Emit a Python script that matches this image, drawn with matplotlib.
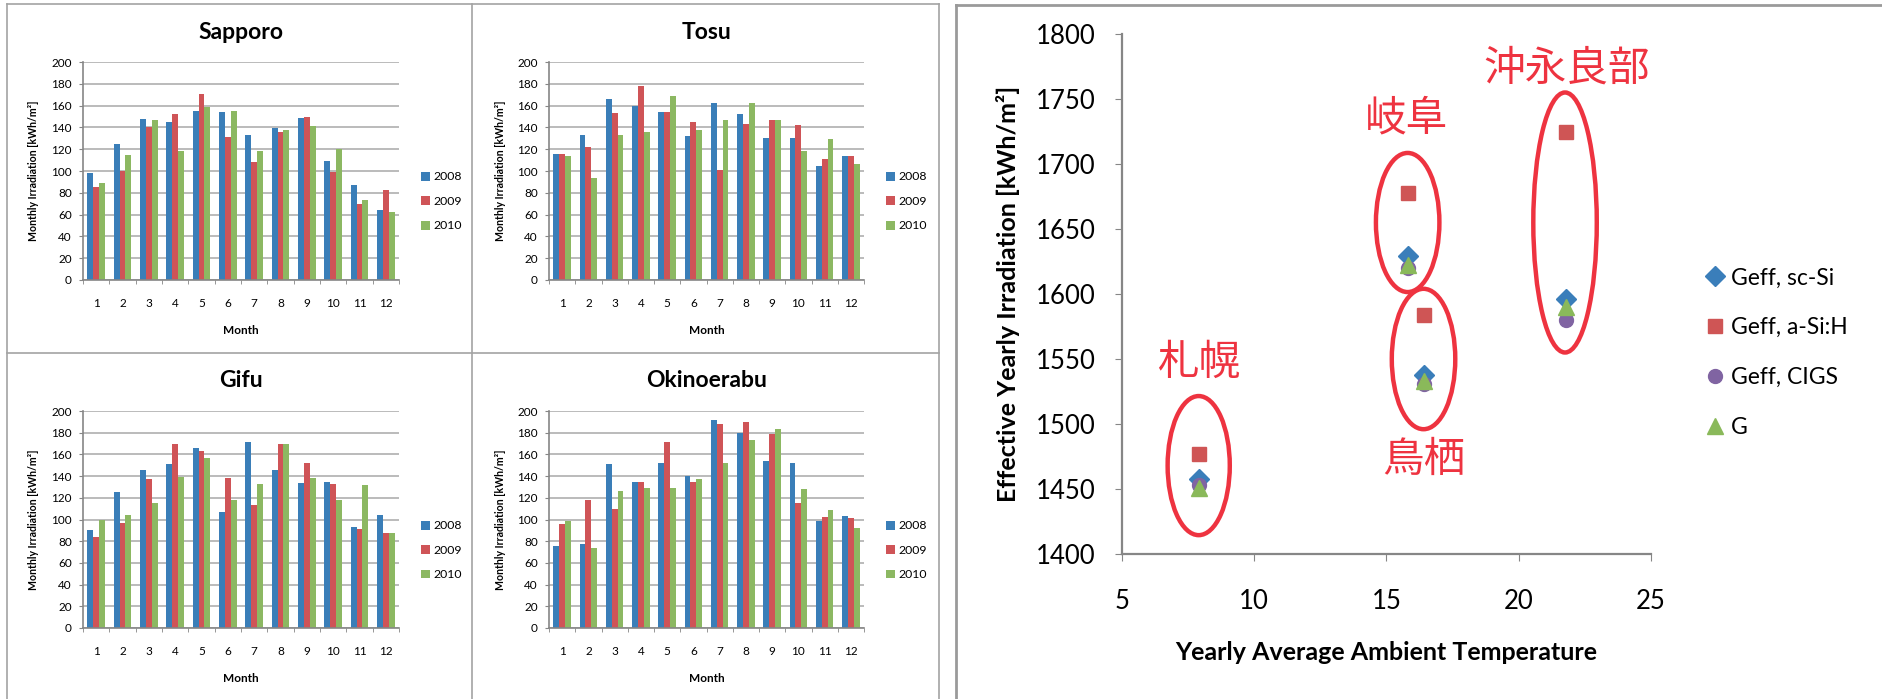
import matplotlib
matplotlib.use("Agg")
import matplotlib.pyplot as plt
from matplotlib.patches import Ellipse
from matplotlib.lines import Line2D
import numpy as np

plt.rcParams['font.family'] = ['Lato', 'DejaVu Sans']

# ---------------- data ----------------
months = list(range(1, 13))
years = ['2008', '2009', '2010']

sapporo_2008 = [98, 125, 148, 145, 155, 154, 133, 139, 149, 109, 87, 64]
sapporo_2009 = [85, 100, 140, 152, 171, 131, 108, 136, 150, 99, 70, 83]
sapporo_2010 = [89, 115, 147, 118, 159, 155, 118, 138, 141, 120, 73, 62]

tosu_2008 = [116, 133, 166, 160, 154, 132, 162, 152, 130, 130, 105, 114]
tosu_2009 = [116, 122, 153, 178, 154, 145, 101, 143, 147, 142, 111, 114]
tosu_2010 = [114, 94, 133, 136, 169, 138, 147, 162, 147, 118, 129, 106]

gifu_2008 = [90, 125, 146, 151, 166, 107, 171, 146, 134, 135, 93, 104]
gifu_2009 = [84, 97, 137, 170, 163, 138, 113, 170, 152, 133, 91, 88]
gifu_2010 = [100, 104, 115, 139, 157, 118, 133, 170, 138, 118, 132, 88]

okino_2008 = [76, 77, 151, 135, 152, 140, 192, 180, 154, 152, 99, 103]
okino_2009 = [96, 118, 110, 135, 171, 135, 188, 190, 179, 115, 102, 101]
okino_2010 = [99, 74, 126, 129, 129, 137, 152, 173, 183, 128, 109, 92]

city_names = ['Sapporo', 'Tosu', 'Gifu', 'Okinoerabu']

# yearly summary per site
site_labels = ['札幌', '岐阜', '鳥栖', '沖永良部']
yearly_temp = [7.9, 15.8, 16.4, 21.8]
geff_sc_si = [1458, 1629, 1538, 1596]
geff_a_si = [1477, 1678, 1584, 1725]
geff_cigs = [1453, 1620, 1531, 1580]
g_total = [1451, 1622, 1533, 1590]

# ---------------- figure ----------------
W, H = 1883, 699
fig = plt.figure(figsize=(W / 100, H / 100), dpi=100)
fig.patch.set_facecolor('white')


def axes_px(left, top, right, bottom):
    return fig.add_axes([left / W, 1 - bottom / H, (right - left) / W, (bottom - top) / H])


def hline(y, x0, x1, color, lw):
    fig.add_artist(Line2D([x0 / W, x1 / W], [1 - y / H, 1 - y / H],
                          transform=fig.transFigure, color=color, lw=lw))


def vline(x, y0, y1, color, lw):
    fig.add_artist(Line2D([x / W, x / W], [1 - y0 / H, 1 - y1 / H],
                          transform=fig.transFigure, color=color, lw=lw))


# panel frames
frame_c = '#A3A3A3'
hline(4, 7, 939, frame_c, 1.2)
hline(353, 7, 939, frame_c, 1.2)
vline(7, 4, 699, frame_c, 1.2)
vline(472, 4, 699, frame_c, 1.2)
vline(939, 4, 699, frame_c, 1.2)
hline(5, 956, 1883, '#9A9A9A', 2.0)
vline(956, 5, 699, '#9A9A9A', 2.0)

bar_colors = ['#3A7EB8', '#CF5457', '#8CB862']
axis_c = '#868686'
grid_c = '#A8A8A8'

panels = [
    (city_names[0], [sapporo_2008, sapporo_2009, sapporo_2010], (83, 62, 399, 280)),
    (city_names[1], [tosu_2008, tosu_2009, tosu_2010], (549, 62, 864, 280)),
    (city_names[2], [gifu_2008, gifu_2009, gifu_2010], (83, 411, 399, 628)),
    (city_names[3], [okino_2008, okino_2009, okino_2010], (549, 411, 864, 628)),
]

x = np.array(months, dtype=float)
bw = 0.225
for name, series, box in panels:
    ax = axes_px(*box)
    h_px = box[3] - box[1]
    w_px = box[2] - box[0]
    for i, (vals, yr) in enumerate(zip(series, years)):
        ax.bar(x + (i - 1) * bw, vals, width=bw, color=bar_colors[i], label=yr, zorder=2)
    ax.set_xlim(0.5, 12.5)
    ax.set_ylim(0, 200)
    ax.set_yticks(range(0, 201, 20))
    ax.set_xticks(months)
    ax.set_xticklabels([str(m) for m in months])
    ax.set_xticks(np.arange(0.5, 12.6, 1.0), minor=True)
    ax.tick_params(axis='x', which='major', length=0, pad=13, labelsize=8.5)
    ax.tick_params(axis='x', which='minor', length=3, color=axis_c, direction='out')
    ax.tick_params(axis='y', length=3, color=axis_c, pad=5, labelsize=8.5)
    ax.yaxis.grid(True, color=grid_c, lw=1.1)
    ax.set_axisbelow(True)
    for s in ('top', 'right'):
        ax.spines[s].set_visible(False)
    for s in ('left', 'bottom'):
        ax.spines[s].set_color(axis_c)
        ax.spines[s].set_linewidth(1.2)
    ax.text(0.5, 1 + 30 / h_px, name, transform=ax.transAxes, ha='center', va='center',
            fontsize=16.5, fontweight='bold')
    ax.text(0.5, -50 / h_px, 'Month', transform=ax.transAxes, ha='center', va='center',
            fontsize=8.5, fontweight='bold')
    ax.text(-49 / w_px, 0.5, 'Monthly Irradiation [kWh/m²]', transform=ax.transAxes,
            ha='center', va='center', rotation=90, fontsize=7.6, fontweight='bold')
    ax.legend(loc='center left', bbox_to_anchor=(1 + 22 / w_px, (h_px - 138 + 28) / h_px - 0.135),
              frameon=False, fontsize=8.8, handlelength=0.75, handleheight=0.75,
              handletextpad=0.3, labelspacing=1.1, borderpad=0, borderaxespad=0)

# ---------------- yearly scatter ----------------
ax2 = axes_px(1122, 34, 1651, 554)
ax2.plot(yearly_temp, geff_sc_si, linestyle='none', marker='D', ms=10.5, color='#3A7EBA',
         label='Geff, sc-Si', zorder=3)
ax2.plot(yearly_temp, geff_a_si, linestyle='none', marker='s', ms=10, color='#CF5555',
         label='Geff, a-Si:H', zorder=3)
ax2.plot(yearly_temp, geff_cigs, linestyle='none', marker='o', ms=10, color='#8064A2',
         label='Geff, CIGS', zorder=3)
ax2.plot(yearly_temp, g_total, linestyle='none', marker='^', ms=11.5, color='#8AB95A',
         label='G', zorder=3)

ax2.set_xlim(5, 25)
ax2.set_ylim(1400, 1800)
ax2.set_xticks(range(5, 26, 5))
ax2.set_yticks(range(1400, 1801, 50))
ax2.tick_params(axis='both', length=5, color=axis_c, direction='out', labelsize=18.5)
ax2.tick_params(axis='x', pad=20)
ax2.tick_params(axis='y', pad=14)
for s in ('top', 'right'):
    ax2.spines[s].set_visible(False)
for s in ('left', 'bottom'):
    ax2.spines[s].set_color(axis_c)
    ax2.spines[s].set_linewidth(1.6)

ax2.text(-114 / 529, 0.5, 'Effective Yearly Irradiation [kWh/m²]', transform=ax2.transAxes,
         ha='center', va='center', rotation=90, fontsize=18, fontweight='bold')
ax2.text(0.5, -99 / 520, 'Yearly Average Ambient Temperature', transform=ax2.transAxes,
         ha='center', va='center', fontsize=18, fontweight='bold')

ax2.legend(loc='center left', bbox_to_anchor=(1.099, 0.387), frameon=False, fontsize=16.5,
           handlelength=1.0, handletextpad=0.2, labelspacing=1.26, borderpad=0,
           borderaxespad=0, numpoints=1)

# site groupings
red = '#EE3340'
ellipses = [
    ((7.9, 1468), 2.35, 107),
    ((15.8, 1655), 2.4, 107),
    ((16.4, 1550), 2.4, 108),
    ((21.75, 1655), 2.4, 200),
]
for (cx, cy), ew, eh in ellipses:
    ax2.add_patch(Ellipse((cx, cy), ew, eh, fill=False, ec=red, lw=3.2, zorder=2))

label_pos = [(7.9, 1547), (15.75, 1735), (16.4, 1472), (21.8, 1773)]
for name, (lx, ly) in zip(site_labels, label_pos):
    ax2.text(lx, ly, name, ha='center', va='center', color=red, fontsize=30,
             family=['Noto Sans CJK JP', 'DejaVu Sans'])

fig.savefig('out.png', dpi=100, facecolor='white')
